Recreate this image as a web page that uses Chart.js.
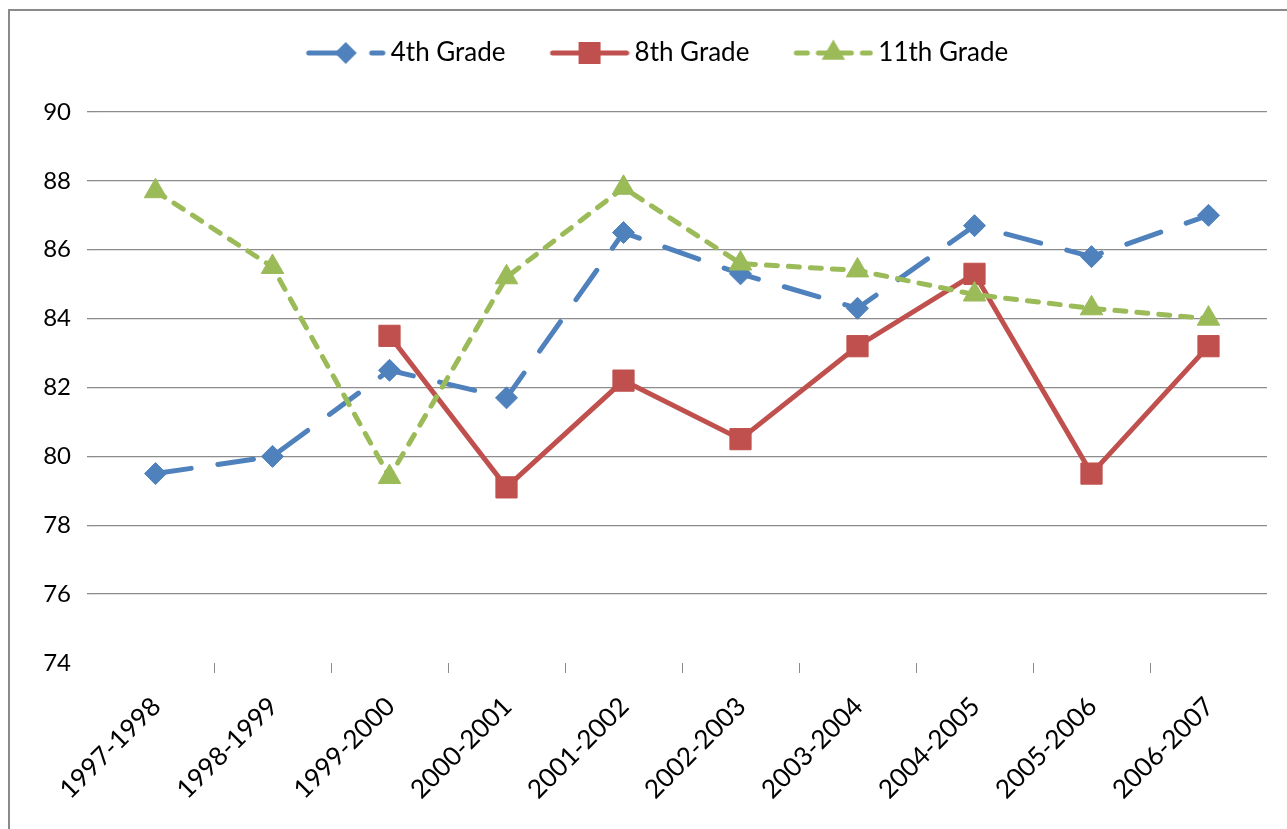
<!DOCTYPE html>
<html>
<head>
<meta charset="utf-8">
<title>Scores by grade</title>
<script src="https://cdn.jsdelivr.net/npm/chart.js@4.4.1/dist/chart.umd.min.js"></script>
<style>
	html, body { margin: 0; padding: 0; background: #fff; overflow: hidden; }
	.frame { position: absolute; left: 8px; top: 9px; width: 1400px; height: 900px; border: 2px solid #8a8a8a; }
	.chartBox { position: absolute; left: 0; top: 0; }
</style>
</head>
<body>
<div class="frame"></div>
<div class="chartBox"><canvas id="gradeChart" width="1290" height="829"></canvas></div>
<script>
const years = ["1997-1998", "1998-1999", "1999-2000", "2000-2001", "2001-2002",
	"2002-2003", "2003-2004", "2004-2005", "2005-2006", "2006-2007"];
const grade4 = [79.5, 80.0, 82.5, 81.7, 86.5, 85.3, 84.3, 86.7, 85.8, 87.0];
const grade8 = [null, null, 83.5, 79.1, 82.2, 80.5, 83.2, 85.3, 79.5, 83.2];
const grade11 = [87.7, 85.5, 79.4, 85.2, 87.8, 85.6, 85.4, 84.7, 84.3, 84.0];
const seriesNames = ["4th Grade", "8th Grade", "11th Grade"];
const yMin = 74;
const yMax = 90;
const yStep = 2;

const BLUE = "#4F81BD";
const RED = "#C0504D";
const GREEN = "#9BBB59";
const GRID = "#8c8c8c";
const FONT = "Lato, 'Open Sans', sans-serif";

// Excel style legend key: line sample with the marker in the middle
function legendSample(color, dash, marker) {
	const c = document.createElement("canvas");
	c.width = 112;
	c.height = 30;
	const ctx = c.getContext("2d");
	ctx.strokeStyle = color;
	ctx.fillStyle = color;
	ctx.lineWidth = 5;
	ctx.lineCap = "round";
	ctx.setLineDash(dash);
	ctx.beginPath();
	ctx.moveTo(35, 15);
	ctx.lineTo(109, 15);
	ctx.stroke();
	ctx.setLineDash([]);

	const cx = 72, cy = 15;
	ctx.beginPath();
	if (marker === "diamond") {
		ctx.moveTo(cx - 11, cy);
		ctx.lineTo(cx, cy - 11);
		ctx.lineTo(cx + 11, cy);
		ctx.lineTo(cx, cy + 11);
	} else if (marker === "square") {
		ctx.rect(cx - 11, cy - 11, 22, 22);
	} else {
		ctx.moveTo(cx, cy - 13.5);
		ctx.lineTo(cx + 11.7, cy + 6.75);
		ctx.lineTo(cx - 11.7, cy + 6.75);
	}
	ctx.closePath();
	ctx.fill();
	return c;
}

const samples = [
	legendSample(BLUE, [36, 27], "diamond"),
	legendSample(RED, [], "square"),
	legendSample(GREEN, [11, 11], "triangle"),
];

// extra room under the legend, before the plot area
const legendSpace = {
	id: "legendSpace",
	beforeInit(chart) {
		const fit = chart.legend.fit;
		chart.legend.fit = function () {
			fit.call(this);
			this.height += 36;
		};
	}
};

const ctx = document.getElementById("gradeChart").getContext("2d");

new Chart(ctx, {
	type: "line",
	data: {
		labels: years,
		datasets: [
			{
				label: seriesNames[0],
				data: grade4,
				borderColor: BLUE,
				backgroundColor: BLUE,
				borderWidth: 5,
				borderDash: [36, 27],
				borderCapStyle: "round",
				pointStyle: "rectRot",
				pointRadius: 11,
				pointBorderWidth: 1,
				order: 2,
			},
			{
				label: seriesNames[1],
				data: grade8,
				borderColor: RED,
				backgroundColor: RED,
				borderWidth: 5,
				borderCapStyle: "round",
				pointStyle: "rect",
				pointRadius: 15,
				pointBorderWidth: 1,
				order: 1,
			},
			{
				label: seriesNames[2],
				data: grade11,
				borderColor: GREEN,
				backgroundColor: GREEN,
				borderWidth: 5,
				borderDash: [11, 11],
				borderCapStyle: "round",
				pointStyle: "triangle",
				pointRadius: 13,
				pointBorderWidth: 1,
				order: 0,
			},
		],
	},
	options: {
		responsive: false,
		animation: false,
		layout: { padding: { top: 20, left: 0, right: 0, bottom: 0 } },
		elements: { line: { tension: 0 } },
		plugins: {
			tooltip: { enabled: false },
			legend: {
				position: "top",
				labels: {
					usePointStyle: true,
					pointStyleWidth: 96,
					padding: 20,
					color: "#000",
					font: { family: FONT, size: 26 },
					generateLabels(chart) {
						const items = Chart.defaults.plugins.legend.labels.generateLabels(chart);
						items.forEach(item => {
							item.pointStyle = samples[item.datasetIndex];
						});
						return items;
					},
					sort: (a, b) => a.datasetIndex - b.datasetIndex,
				},
			},
		},
		scales: {
			x: {
				offset: true,
				border: { display: false },
				grid: {
					offset: true,
					drawOnChartArea: false,
					drawTicks: true,
					tickLength: 10,
					color: c => (c.type === "tick" && c.index > 0) ? GRID : "transparent",
				},
				ticks: {
					autoSkip: false,
					minRotation: 45,
					maxRotation: 45,
					padding: 18,
					labelOffset: 1,
					color: "#000",
					font: { family: FONT, size: 26 },
				},
				afterFit(scale) {
					scale.height = 166;
				},
			},
			y: {
				min: yMin,
				max: yMax,
				border: { display: false },
				grid: {
					tickLength: 10,
					lineWidth: 1.3,
					color: c => (c.tick && c.tick.value === yMin) ? "transparent" : GRID,
				},
				ticks: {
					stepSize: yStep,
					padding: 16,
					color: "#000",
					font: { family: FONT, size: 24 },
				},
				afterFit(scale) {
					scale.width = 97;
				},
			},
			y2: {
				position: "right",
				border: { display: false },
				grid: { display: false },
				ticks: { display: false },
				afterFit(scale) {
					scale.width = 23;
				},
			},
		},
	},
	plugins: [legendSpace],
});
</script>
</body>
</html>
